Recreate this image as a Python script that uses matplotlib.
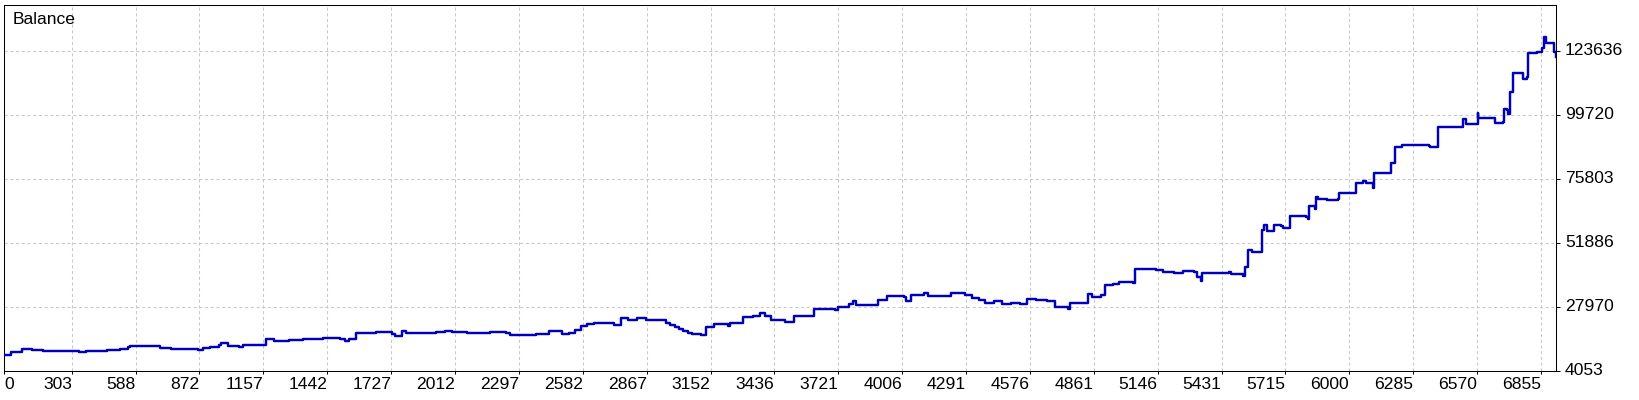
import matplotlib
matplotlib.use("Agg")
import matplotlib.pyplot as plt

# balance curve (trade number -> balance after it)
trade_no = [0, 30, 79, 124, 174, 333, 365, 460, 484, 516, 555, 563, 698, 746, 841, 865, 889, 921,
            960, 968, 1000, 1048, 1064, 1170, 1206, 1270, 1334, 1421, 1500, 1521, 1540, 1569, 1651,
            1659, 1730, 1746, 1775, 1794, 1873, 1929, 1969, 2000, 2064, 2167, 2239, 2255, 2374, 2429,
            2466, 2490, 2522, 2545, 2574, 2601, 2633, 2720, 2752, 2784, 2824, 2864, 2951, 2971, 2991,
            3010, 3030, 3050, 3070, 3110, 3131, 3166, 3229, 3237, 3297, 3340, 3372, 3395, 3420, 3483,
            3523, 3614, 3706, 3722, 3770, 3786, 3802, 3900, 3937, 4016, 4024, 4048, 4104, 4120, 4199,
            4223, 4287, 4320, 4351, 4374, 4414, 4454, 4494, 4533, 4565, 4605, 4653, 4689, 4748, 4756,
            4836, 4852, 4893, 4909, 4949, 4973, 5036, 5047, 5140, 5171, 5219, 5259, 5306, 5322, 5338,
            5346, 5465, 5473, 5529, 5537, 5550, 5569, 5613, 5619, 5632, 5664, 5696, 5704, 5735, 5807,
            5817, 5823, 5847, 5851, 5862, 5902, 5950, 5953, 6032, 6061, 6077, 6105, 6113, 6189, 6202,
            6205, 6236, 6355, 6363, 6398, 6506, 6522, 6573, 6577, 6649, 6686, 6690, 6705, 6708, 6716,
            6729, 6776, 6792, 6800, 6840, 6859, 6869, 6880, 6896, 6912, 6923]
balance = [9940, 10800, 12150, 11780, 11290, 10920, 11290, 11540, 11780, 12030, 12880, 13130, 12520,
           12270, 12150, 11780, 12640, 13010, 13500, 14230, 13370, 13010, 13500, 15830, 15090, 15460,
           15700, 16080, 15950, 15210, 15830, 18160, 17910, 18280, 17670, 16940, 18890, 18160, 17910,
           18280, 18770, 18400, 18160, 18530, 17910, 17300, 17540, 18800, 18650, 17700, 17910, 19380,
           20860, 21590, 21840, 21220, 23550, 22820, 23550, 22820, 21840, 21100, 20370, 19600, 18890,
           18200, 17540, 17420, 20370, 21350, 20860, 21840, 24050, 24290, 25520, 24300, 23060, 22330,
           24290, 27110, 26750, 27970, 28950, 29930, 28580, 30420, 31770, 31400, 30180, 32390, 33000,
           31770, 32020, 32880, 32260, 31300, 30420, 29440, 30180, 28950, 29440, 28950, 30910, 30420,
           29930, 27730, 26990, 29200, 32630, 31650, 32340, 35950, 36450, 37320, 36950, 41930, 41680,
           40930, 40690, 41430, 41060, 39190, 37570, 40690, 41060, 40190, 39440, 42930, 49160, 48530,
           56630, 58380, 56380, 58500, 58250, 57260, 61870, 61620, 60620, 65610, 64610, 69090, 68100,
           67850, 68100, 70340, 74330, 75080, 74080, 72210, 78060, 81550, 81800, 87780, 88280, 88160,
           87780, 95010, 98000, 96260, 100240, 98500, 96750, 97130, 101740, 101490, 99870, 108340,
           115190, 112950, 113700, 122920, 123290, 124540, 128650, 126660, 126410, 123290, 121180]

x_ticks = [0, 303, 588, 872, 1157, 1442, 1727, 2012, 2297, 2582, 2867, 3152, 3436, 3721, 4006,
           4291, 4576, 4861, 5146, 5431, 5715, 6000, 6285, 6570, 6855]
y_ticks = [4053, 27970, 51886, 75803, 99720, 123636]

plt.rcParams['font.family'] = ['Liberation Sans', 'DejaVu Sans']
plt.rcParams['font.size'] = 12.6

fig = plt.figure(figsize=(16.4, 4.0), dpi=100)
ax = fig.add_axes([4 / 1640, 29.5 / 400, 1552 / 1640, 365.5 / 400])

ax.plot(trade_no, balance, drawstyle='steps-post', color='#0000BA', lw=1.75, zorder=3)

ax.set_xlim(0, 6923)
ax.set_ylim(4053, 140800)

ax.set_xticks(x_ticks)
ax.set_xticklabels([str(t) for t in x_ticks])
for i, lab in enumerate(ax.get_xticklabels()):
    lab.set_horizontalalignment('left' if i == 0 else 'right')
ax.yaxis.tick_right()
ax.set_yticks(y_ticks)
ax.set_yticklabels([str(t) for t in y_ticks])

ax.tick_params(axis='x', direction='out', length=2.5, width=0.75, pad=2.5, colors='black')
ax.tick_params(axis='y', direction='out', length=3, width=0.75, pad=3.5, colors='black')
for lab in ax.get_yticklabels():
    lab.set_verticalalignment('center')

ax.grid(True, color='#c8c8c8', linestyle=(0, (3, 2.5)), linewidth=0.75, zorder=0)
for s in ax.spines.values():
    s.set_color('black')
    s.set_linewidth(0.75)

ax.annotate('Balance', xy=(0, 1), xycoords='axes fraction', xytext=(6.3, -5),
            textcoords='offset points', ha='left', va='top')

fig.savefig('out.png', dpi=100)
